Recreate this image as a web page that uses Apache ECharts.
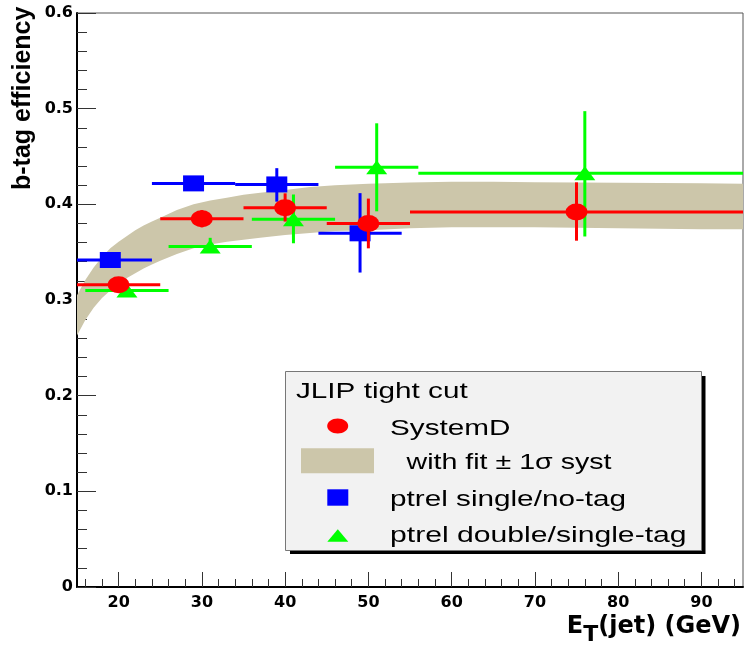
<!DOCTYPE html>
<html><head><meta charset="utf-8">
<script src="https://cdn.jsdelivr.net/npm/echarts@6/dist/echarts.min.js"></script>
<style>html,body{margin:0;padding:0;background:#fff}#c{width:745px;height:650px}</style>
</head><body><div id="c"></div>
<script>
// ---- tick labels ----
const xTickValues = [20, 30, 40, 50, 60, 70, 80, 90];
const yTickLabels = ['0', '0.1', '0.2', '0.3', '0.4', '0.5', '0.6'];

// ---- SystemD (red circles) ----
const redX      = [20, 30, 40, 50, 75];
const redY      = [0.316, 0.385, 0.3965, 0.380, 0.392];
const redXlo    = [15, 25, 35, 45, 55];
const redXhi    = [25, 35, 45, 55, 95];
const redErrUp  = [0.006, 0.009, 0.015, 0.026, 0.031];
const redErrDn  = [0.006, 0.009, 0.0145, 0.026, 0.030];

// ---- ptrel single/no-tag (blue squares) ----
const blueX     = [19, 29, 39, 49];
const blueY     = [0.3418, 0.4219, 0.4208, 0.3697];
const blueXlo   = [14, 24, 34, 44];
const blueXhi   = [24, 34, 44, 54];
const blueErrUp = [0.005, 0.005, 0.017, 0.042];
const blueErrDn = [0.005, 0.005, 0.018, 0.041];

// ---- ptrel double/single-tag (green triangles) ----
const greenX     = [21, 31, 41, 51, 76];
const greenY     = [0.310, 0.356, 0.3843, 0.4387, 0.4324];
const greenXlo   = [16, 26, 36, 46, 56];
const greenXhi   = [26, 36, 46, 56, 96];
const greenErrUp = [0.005, 0.009, 0.026, 0.046, 0.065];
const greenErrDn = [0.005, 0.005, 0.025, 0.046, 0.066];

// ---- fit band (+-1 sigma syst) ----
const bandX    = [15, 16, 17, 18, 19, 20, 21, 22, 23, 24, 25, 27, 29, 31, 33, 35, 37, 40, 43, 46, 50, 55, 60, 65, 70, 80, 90, 95];
const bandLow  = [0.263, 0.279, 0.292, 0.302, 0.310, 0.317, 0.323, 0.328, 0.333, 0.337, 0.341, 0.348, 0.354, 0.358, 0.361, 0.363, 0.365, 0.368, 0.370, 0.372, 0.373, 0.375, 0.376, 0.376, 0.376, 0.375, 0.374, 0.374];
const bandHigh = [0.305, 0.321, 0.334, 0.345, 0.354, 0.361, 0.367, 0.373, 0.378, 0.382, 0.386, 0.394, 0.400, 0.404, 0.407, 0.410, 0.412, 0.415, 0.418, 0.420, 0.4215, 0.4228, 0.4235, 0.4235, 0.423, 0.4225, 0.422, 0.4215];

const RED = '#ff0000', BLUE = '#0000ff', GREEN = '#00ff00', BAND = '#ccc6aa';

const minorX = [];
for (let v = 16; v < 95; v += 2) if (v % 10 !== 0) minorX.push(v);

function errSeries(name, color, xs, ys, xlo, xhi, up, dn, z) {
  return {
    type: 'custom', name: name, z: z, silent: true, animation: false,
    data: xs.map((x, i) => [x, ys[i], xlo[i], xhi[i], ys[i] - dn[i], ys[i] + up[i]]),
    encode: { x: 0, y: 1 },
    renderItem: function (params, api) {
      const cs = params.coordSys;
      const cx = v => Math.max(cs.x, Math.min(cs.x + cs.width, v));
      const y = api.value(1), x = api.value(0);
      const a = api.coord([api.value(2), y]);
      const b = api.coord([api.value(3), y]);
      const c = api.coord([x, api.value(4)]);
      const d = api.coord([x, api.value(5)]);
      return {
        type: 'group', children: [
          { type: 'line', shape: { x1: cx(a[0]), y1: a[1], x2: cx(b[0]), y2: b[1] }, style: { stroke: color, lineWidth: 3 } },
          { type: 'line', shape: { x1: c[0], y1: c[1], x2: d[0], y2: d[1] }, style: { stroke: color, lineWidth: 3 } }
        ]
      };
    }
  };
}

const chart = echarts.init(document.getElementById('c'));
const option = {
  animation: false,
  backgroundColor: '#ffffff',
  grid: { left: 77, right: 2, top: 13, bottom: 63, show: true, borderColor: '#555', borderWidth: 1, backgroundColor: 'transparent' },
  xAxis: [
    {
      type: 'value', min: 15, max: 95, position: 'bottom',
      axisLine: { onZero: false, lineStyle: { color: '#000', width: 2 } },
      axisTick: { inside: true, length: 15, customValues: xTickValues, lineStyle: { color: '#333', width: 1 } },
      axisLabel: { customValues: xTickValues, fontFamily: 'DejaVu Sans', fontWeight: 'bold', fontSize: 16, color: '#000', margin: 8 },
      splitLine: { show: false },
      name: '{e|E}{t|T}{e|(jet) (GeV)}',
      nameLocation: 'end', nameGap: 0,
      nameTextStyle: {
        align: 'right', verticalAlign: 'top', padding: [28, 2, 0, 0],
        rich: {
          e: { fontFamily: 'DejaVu Sans', fontWeight: 'bold', fontSize: 24, color: '#000', verticalAlign: 'top' },
          t: { fontFamily: 'DejaVu Sans', fontWeight: 'bold', fontSize: 22, color: '#000', verticalAlign: 'top', padding: [9, 0, 0, 0] }
        }
      }
    },
    {
      type: 'value', min: 15, max: 95, position: 'bottom',
      axisLine: { show: false },
      axisTick: { inside: true, length: 8, customValues: minorX, lineStyle: { color: '#333', width: 1 } },
      axisLabel: { show: false },
      splitLine: { show: false }
    }
  ],
  yAxis: {
    type: 'value', min: 0, max: 0.6, interval: 0.1,
    axisLine: { show: true, lineStyle: { color: '#000', width: 2 } },
    axisTick: { show: true, inside: true, length: 19, lineStyle: { color: '#333', width: 1 } },
    minorTick: { show: true, splitNumber: 5, length: 10, lineStyle: { color: '#333', width: 1 } },
    axisLabel: {
      fontFamily: 'DejaVu Sans', fontWeight: 'bold', fontSize: 16, color: '#000', margin: 4,
      formatter: v => yTickLabels[Math.round(v * 10)]
    },
    splitLine: { show: false }
  },
  series: [
    {
      type: 'custom', name: 'with fit \u00b1 1\u03c3 syst', z: 1, silent: true,
      data: [[bandX[0], bandLow[0]]], encode: { x: 0, y: 1 },
      renderItem: function (params, api) {
        const pts = [];
        for (let i = 0; i < bandX.length; i++) pts.push(api.coord([bandX[i], bandHigh[i]]));
        for (let i = bandX.length - 1; i >= 0; i--) pts.push(api.coord([bandX[i], bandLow[i]]));
        return { type: 'polygon', shape: { points: pts }, style: { fill: BAND } };
      }
    },
    errSeries('ptrel double/single-tag bars', GREEN, greenX, greenY, greenXlo, greenXhi, greenErrUp, greenErrDn, 2),
    { type: 'scatter', name: 'ptrel double/single-tag', z: 3, symbol: 'triangle', symbolSize: [21, 14], itemStyle: { color: GREEN, opacity: 1 }, data: greenX.map((x, i) => [x, greenY[i]]) },
    errSeries('ptrel single/no-tag bars', BLUE, blueX, blueY, blueXlo, blueXhi, blueErrUp, blueErrDn, 4),
    { type: 'scatter', name: 'ptrel single/no-tag', z: 5, symbol: 'rect', symbolSize: [21, 16], itemStyle: { color: BLUE, opacity: 1 }, data: blueX.map((x, i) => [x, blueY[i]]) },
    errSeries('SystemD bars', RED, redX, redY, redXlo, redXhi, redErrUp, redErrDn, 6),
    { type: 'scatter', name: 'SystemD', z: 7, symbol: 'circle', symbolSize: [22, 17], itemStyle: { color: RED, opacity: 1 }, data: redX.map((x, i) => [x, redY[i]]) }
  ],
  graphic: [
    { type: 'text', x: 23.5, y: 190, rotation: Math.PI / 2, z: 100,
      style: { text: 'b-tag efficiency', fontSize: 25, fontWeight: 'bold', fontFamily: 'Liberation Sans', fill: '#000', textAlign: 'left', textVerticalAlign: 'middle' } },
    // legend box shadow + box
    { type: 'rect', z: 100, shape: { x: 290, y: 376, width: 415.5, height: 178 }, style: { fill: '#000' } },
    { type: 'rect', z: 101, shape: { x: 285.5, y: 371.5, width: 416, height: 179 }, style: { fill: '#f2f2f2', stroke: '#777', lineWidth: 1 } },
    { type: 'text', z: 102, x: 296, y: 391.5, scaleX: 1.35, style: { text: 'JLIP tight cut', fontSize: 22, fontFamily: 'Liberation Sans', fill: '#000', textAlign: 'left', textVerticalAlign: 'middle' } },
    { type: 'ellipse', z: 102, shape: { cx: 337.7, cy: 426, rx: 10.5, ry: 7.5 }, style: { fill: RED } },
    { type: 'text', z: 102, x: 390, y: 428.5, scaleX: 1.35, style: { text: 'SystemD', fontSize: 22, fontFamily: 'Liberation Sans', fill: '#000', textAlign: 'left', textVerticalAlign: 'middle' } },
    { type: 'rect', z: 102, shape: { x: 301, y: 448.3, width: 73, height: 25 }, style: { fill: BAND } },
    { type: 'text', z: 102, x: 406.5, y: 462.8, scaleX: 1.3, style: { text: 'with fit \u00b1 1\u03c3 syst', fontSize: 22, fontFamily: 'Liberation Sans', fill: '#000', textAlign: 'left', textVerticalAlign: 'middle' } },
    { type: 'rect', z: 102, shape: { x: 327.3, y: 489.3, width: 21, height: 16.4 }, style: { fill: BLUE } },
    { type: 'text', z: 102, x: 390, y: 500.2, scaleX: 1.35, style: { text: 'ptrel single/no-tag', fontSize: 22, fontFamily: 'Liberation Sans', fill: '#000', textAlign: 'left', textVerticalAlign: 'middle' } },
    { type: 'polygon', z: 102, shape: { points: [[327.3, 541.7], [348.3, 541.7], [337.8, 529.3]] }, style: { fill: GREEN } },
    { type: 'text', z: 102, x: 390, y: 536.2, scaleX: 1.37, style: { text: 'ptrel double/single-tag', fontSize: 22, fontFamily: 'Liberation Sans', fill: '#000', textAlign: 'left', textVerticalAlign: 'middle' } }
  ]
};
chart.setOption(option);
</script>
</body></html>
